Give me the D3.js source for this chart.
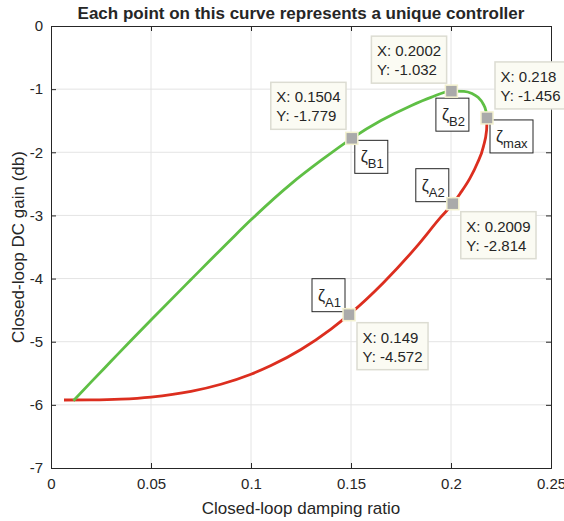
<!DOCTYPE html>
<html>
<head>
<meta charset="utf-8">
<script src="https://cdn.jsdelivr.net/npm/d3@7"></script>
<style>
  body { margin: 0; background: #fff; }
  text { font-family: "Liberation Sans", Arial, sans-serif; fill: #262626; }
</style>
</head>
<body>
<svg id="chart" width="564" height="521"></svg>
<script>
// upper branch (green)
const greenX = [0.0112, 0.02, 0.03, 0.04, 0.05, 0.07, 0.09, 0.1, 0.12, 0.135, 0.1504, 0.165, 0.18, 0.19, 0.2002, 0.2065, 0.2105, 0.2135, 0.216, 0.2175, 0.218];
const greenY = [-5.934, -5.64, -5.31, -4.98, -4.655, -4.015, -3.38, -3.07, -2.50, -2.13, -1.779, -1.498, -1.262, -1.13, -1.032, -1.035, -1.07, -1.13, -1.23, -1.35, -1.456];

// lower branch (red)
const redX = [0.0065, 0.02, 0.035, 0.05, 0.07, 0.085, 0.1, 0.11, 0.125, 0.14, 0.149, 0.1662, 0.1828, 0.195, 0.2009, 0.2045, 0.2095, 0.2132, 0.2162, 0.2178, 0.218];
const redY = [-5.923, -5.921, -5.909, -5.876, -5.787, -5.674, -5.515, -5.378, -5.123, -4.80, -4.572, -4.065, -3.494, -3.024, -2.814, -2.656, -2.41, -2.17, -1.91, -1.65, -1.456];

// data tips
const tipNames = ["B2", "max", "B1", "A2", "A1"];
const tipX = [0.2002, 0.218, 0.1504, 0.2009, 0.149];
const tipY = [-1.032, -1.456, -1.779, -2.814, -4.572];
const tipXText = ["0.2002", "0.218", "0.1504", "0.2009", "0.149"];

const xTicks = [0, 0.05, 0.1, 0.15, 0.2, 0.25];
const yTicks = [0, -1, -2, -3, -4, -5, -6, -7];

const svg = d3.select('#chart');
const mLeft = 51, mRight = 551, mTop = 26, mBottom = 468;

const x = d3.scaleLinear().domain([0, 0.25]).range([mLeft, mRight]);
const y = d3.scaleLinear().domain([0, -7]).range([mTop, mBottom]);

// grid
svg.append('g')
  .selectAll('line')
  .data(xTicks.slice(1, -1))
  .join('line')
  .attr('x1', (d) => x(d)).attr('x2', (d) => x(d))
  .attr('y1', mTop).attr('y2', mBottom)
  .attr('stroke', '#e4e4e4');
svg.append('g')
  .selectAll('line')
  .data(yTicks.slice(1, -1))
  .join('line')
  .attr('y1', (d) => y(d)).attr('y2', (d) => y(d))
  .attr('x1', mLeft).attr('x2', mRight)
  .attr('stroke', '#e4e4e4');

// axes, ticks inward on all four sides
const fmt = (d) => (d === 0 ? '0' : String(d));
const axB = svg.append('g').attr('transform', `translate(0,${mBottom})`)
  .call(d3.axisBottom(x).tickValues(xTicks).tickSize(-5).tickPadding(10).tickFormat(fmt));
const axL = svg.append('g').attr('transform', `translate(${mLeft},0)`)
  .call(d3.axisLeft(y).tickValues(yTicks).tickSize(-5).tickPadding(8).tickFormat(fmt));
const axT = svg.append('g').attr('transform', `translate(0,${mTop})`)
  .call(d3.axisTop(x).tickValues(xTicks).tickSize(-5).tickFormat(''));
const axR = svg.append('g').attr('transform', `translate(${mRight},0)`)
  .call(d3.axisRight(y).tickValues(yTicks).tickSize(-5).tickFormat(''));
[axB, axL, axT, axR].forEach((g) => {
  g.select('.domain').attr('stroke', '#262626');
  g.selectAll('.tick line').attr('stroke', '#262626');
  g.selectAll('.tick text')
    .style('font-family', '"Liberation Sans", Arial, sans-serif')
    .style('font-size', '15px').attr('fill', '#262626');
});

// curves
const line = d3.line().x((d) => x(d[0])).y((d) => y(d[1])).curve(d3.curveMonotoneX);
svg.append('path')
  .datum(redX.map((v, i) => [v, redY[i]]))
  .attr('d', line).attr('fill', 'none')
  .attr('stroke', '#dc2e1f').attr('stroke-width', 2.8);
svg.append('path')
  .datum(greenX.map((v, i) => [v, greenY[i]]))
  .attr('d', line).attr('fill', 'none')
  .attr('stroke', '#5fbf45').attr('stroke-width', 2.8);

// annotation layout: offsets from the marker (tip box, zeta box)
const layout = {
  B2: { tx: -80, ty: -55, zx: -15.5, zy: 7, zw: 33 },
  max: { tx: 8, ty: -56, zx: 3, zy: 2, zw: 43 },
  B1: { tx: -81, ty: -56, zx: 3, zy: 2, zw: 33 },
  A2: { tx: 8, ty: 8, zx: -37, zy: -35, zw: 33 },
  A1: { tx: 8, ty: 8, zx: -37, zy: -36, zw: 33 }
};

tipNames.forEach((name, i) => {
  const px = x(tipX[i]), py = y(tipY[i]);
  const L = layout[name];

  // zeta label box
  const zg = svg.append('g').attr('transform', `translate(${px + L.zx},${py + L.zy})`);
  zg.append('rect').attr('width', L.zw).attr('height', 33)
    .attr('fill', '#fff').attr('stroke', '#262626').attr('stroke-width', 1);
  const zt = zg.append('text').attr('x', 6).attr('y', 22).style('font-size', '16px');
  zt.append('tspan').text('ζ');
  zt.append('tspan').attr('dy', 6).style('font-size', '13px').text(name);

  // data tip box
  const tg = svg.append('g').attr('transform', `translate(${px + L.tx},${py + L.ty})`);
  const rect = tg.append('rect').attr('height', 47)
    .attr('fill', '#fbfbf3').attr('stroke', '#dcdcd2').attr('stroke-width', 1.5);
  const t1 = tg.append('text').attr('x', 5.5).attr('y', 20).style('font-size', '15px').text('X: ' + tipXText[i]);
  const t2 = tg.append('text').attr('x', 5.5).attr('y', 39).style('font-size', '15px').text('Y: ' + tipY[i]);
  const w = Math.max(t1.node().getComputedTextLength(), t2.node().getComputedTextLength()) + 11;
  rect.attr('width', w);

  // marker
  svg.append('rect')
    .attr('x', px - 6).attr('y', py - 6).attr('width', 12).attr('height', 12)
    .attr('fill', '#aaaaaa').attr('stroke', '#f3f1cf').attr('stroke-width', 1.5);
});

// title and labels
svg.append('text').attr('x', (mLeft + mRight) / 2).attr('y', 19)
  .attr('text-anchor', 'middle').style('font-size', '17px').style('font-weight', 'bold')
  .text('Each point on this curve represents a unique controller');
svg.append('text').attr('x', (mLeft + mRight) / 2).attr('y', 514)
  .attr('text-anchor', 'middle').style('font-size', '17px')
  .text('Closed-loop damping ratio');
svg.append('text').attr('transform', `translate(24,${(mTop + mBottom) / 2}) rotate(-90)`)
  .attr('text-anchor', 'middle').style('font-size', '17px')
  .text('Closed-loop DC gain (db)');
</script>
</body>
</html>
